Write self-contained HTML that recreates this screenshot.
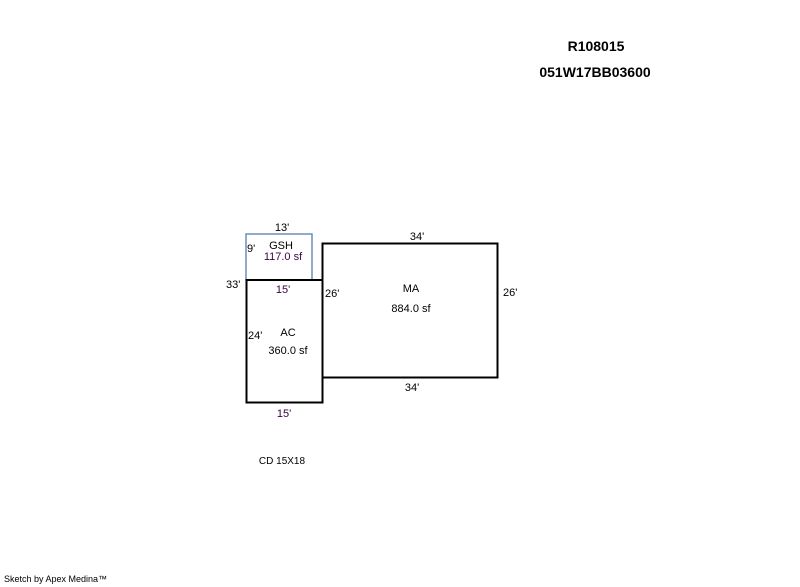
<!DOCTYPE html>
<html><head><meta charset="utf-8"><style>
html,body{margin:0;padding:0;background:#fff;width:800px;height:587px;overflow:hidden}
svg text{font-family:"Liberation Sans",sans-serif;font-size:11px}
</style></head><body>
<svg width="800" height="587" xmlns="http://www.w3.org/2000/svg">
<text x="596" y="51" text-anchor="middle" style="font-size:14px;font-weight:bold">R108015</text>
<text x="595" y="77" text-anchor="middle" style="font-size:14px;font-weight:bold">051W17BB03600</text>
<rect x="246" y="234" width="66" height="46" fill="none" stroke="#6a8db8" stroke-width="1.5"/>
<rect x="322.5" y="243.5" width="175" height="134" fill="none" stroke="#000" stroke-width="2"/>
<rect x="246.5" y="280" width="76" height="122.5" fill="none" stroke="#000" stroke-width="2"/>
<text x="282" y="231" text-anchor="middle">13'</text>
<text x="247" y="252">9'</text>
<text x="281" y="249" text-anchor="middle">GSH</text>
<text x="283" y="260" text-anchor="middle" fill="#3a0040">117.0 sf</text>
<text x="226" y="288">33'</text>
<text x="283" y="293" text-anchor="middle" fill="#3a0040">15'</text>
<text x="248" y="339">24'</text>
<text x="288" y="336" text-anchor="middle">AC</text>
<text x="288" y="354" text-anchor="middle">360.0 sf</text>
<text x="284" y="417" text-anchor="middle" fill="#3a0040">15'</text>
<text x="417" y="240" text-anchor="middle">34'</text>
<text x="325" y="297">26'</text>
<text x="503" y="296">26'</text>
<text x="411" y="292" text-anchor="middle">MA</text>
<text x="411" y="312" text-anchor="middle">884.0 sf</text>
<text x="412" y="391" text-anchor="middle">34'</text>
<text x="282" y="464" text-anchor="middle" style="font-size:10px">CD 15X18</text>
<text x="4" y="582" style="font-size:9px">Sketch by Apex Medina™</text>
</svg>
</body></html>
